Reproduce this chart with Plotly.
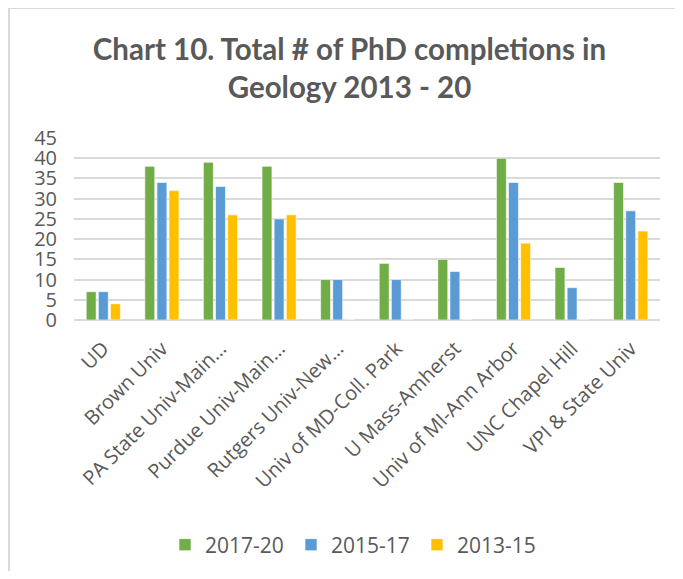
import plotly.graph_objects as go

categories = ["UD", "Brown Univ", "PA State Univ-Main…", "Purdue Univ-Main…", "Rutgers Univ-New…",
              "Univ of MD-Coll. Park", "U Mass-Amherst", "Univ of MI-Ann Arbor", "UNC Chapel Hill",
              "VPI & State Univ"]
s2017_20 = [7, 38, 39, 38, 10, 14, 15, 40, 13, 34]
s2015_17 = [7, 34, 33, 25, 10, 10, 12, 34, 8, 27]
s2013_15 = [4, 32, 26, 26, 0, 0, 0, 19, 0, 22]
y_ticks = [0, 5, 10, 15, 20, 25, 30, 35, 40, 45]

series = [("2017-20", s2017_20, "#70AD47"), ("2015-17", s2015_17, "#5B9BD5"), ("2013-15", s2013_15, "#FFC000")]

fig = go.Figure()
for name, vals, col in series:
    fig.add_trace(go.Bar(x=categories, y=vals, name=name,
                         marker=dict(color=col, line=dict(color="rgba(255,255,255,0.6)", width=1))))

# the page body has an 8px margin, so figure coordinates are page coordinates minus 8
W, H = 667, 563
L, T = 66, 130
R = W - 652
B = H - 312
pw, ph = W - L - R, H - T - B

bx = (1 - L) / pw          # left border of the chart frame
by = 1 + (T - 0) / ph      # top border of the chart frame

fig.update_layout(
    width=W, height=H,
    margin=dict(l=L, r=R, t=T, b=B, autoexpand=False),
    paper_bgcolor="white", plot_bgcolor="white",
    barmode="group", bargap=0.38, bargroupgap=0.18,
    title=dict(text="<b>Chart 10. Total # of PhD completions in<br>Geology 2013 - 20</b>",
               x=341.5 / W, xref="container", xanchor="center",
               y=1 - 52 / H, yanchor="middle",
               font=dict(family="Lato", size=29.5, color="#595959")),
    font=dict(family="Open Sans", color="#595959"),
    yaxis=dict(range=[0, 45], tickvals=y_ticks, showgrid=True, gridcolor="#D9D9D9", gridwidth=2,
               zeroline=True, zerolinecolor="#D9D9D9", zerolinewidth=2, automargin=False,
               tickfont=dict(size=20, color="#595959"), ticks="", showline=False, ticklabelstandoff=16),
    xaxis=dict(tickangle=-45, tickfont=dict(size=20, color="#595959"), showline=False, ticks="",
               automargin=False, ticklabelstandoff=12),
    legend=dict(orientation="h", x=(157 - L) / pw, xanchor="left", y=-(537 - (T + ph)) / ph, yanchor="middle",
                font=dict(size=21, color="#595959"), entrywidth=81, entrywidthmode="pixels",
                traceorder="normal"),
    shapes=[
        dict(type="line", xref="paper", yref="paper", x0=bx, x1=bx, y0=-(H - T - ph) / ph, y1=by,
             line=dict(color="#D9D9D9", width=2), layer="below"),
        dict(type="line", xref="paper", yref="paper", x0=bx, x1=(W - L) / pw, y0=by, y1=by,
             line=dict(color="#D9D9D9", width=2), layer="below"),
    ],
)

fig.write_html("out.html")
